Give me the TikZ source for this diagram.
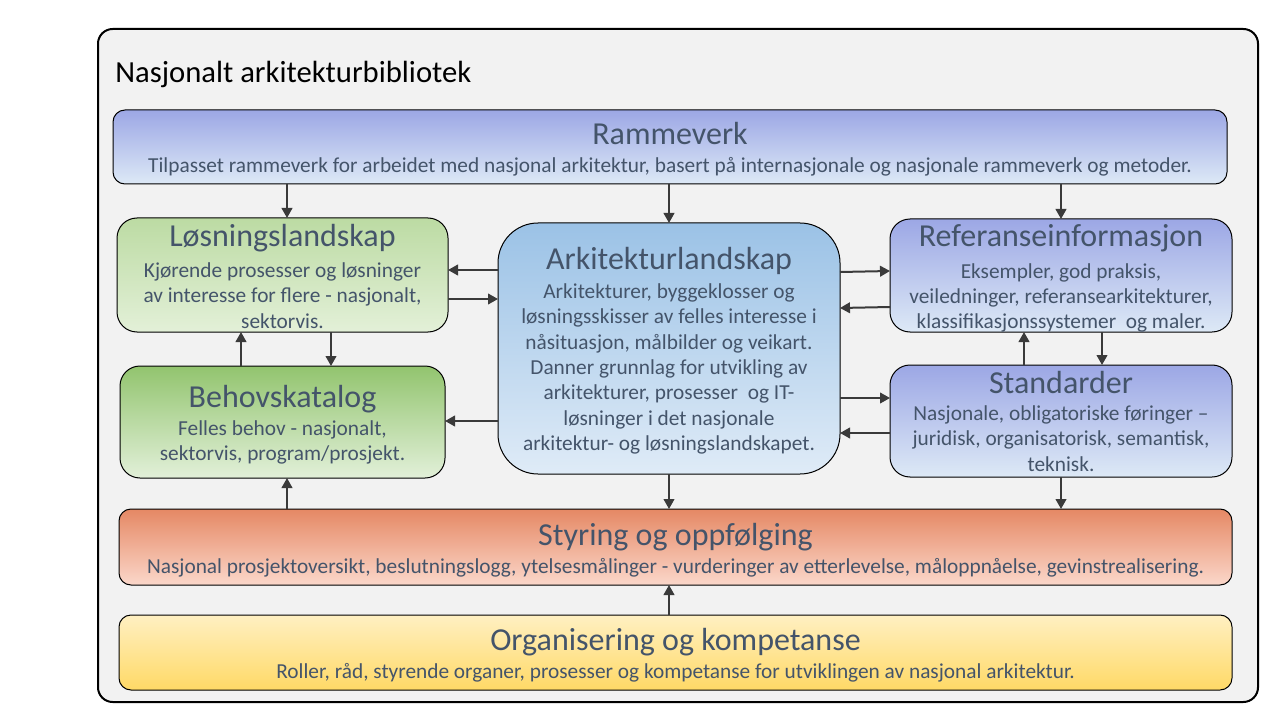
\documentclass[tikz,border=0pt]{standalone}
\usepackage{fontspec}
\setmainfont{Carlito}
\usetikzlibrary{arrows.meta,calc}
\definecolor{txt}{HTML}{44546A}
\definecolor{arrc}{HTML}{3A3A3A}
\definecolor{bluetop}{HTML}{9CA7E5}
\definecolor{bluebot}{HTML}{DDE9F6}
\definecolor{skytop}{HTML}{9BC2E6}
\definecolor{skybot}{HTML}{DFEBF7}
\definecolor{lgtop}{HTML}{BCDBA3}
\definecolor{lgbot}{HTML}{E3F0D8}
\definecolor{dgtop}{HTML}{92C46E}
\definecolor{dgbot}{HTML}{E2F0D9}
\definecolor{ortop}{HTML}{E58864}
\definecolor{orbot}{HTML}{FBD7CA}
\definecolor{yetop}{HTML}{FFF0C2}
\definecolor{yebot}{HTML}{FFD966}
\definecolor{framefill}{HTML}{F2F2F2}
\begin{document}
\begin{tikzpicture}[x=0.75pt,y=-0.75pt,
  wh/.style 2 args={minimum width=#1*0.75pt, minimum height=#2*0.75pt, inner sep=0pt, outer sep=0pt},
  box/.style={draw=black, line width=0.75pt, rounded corners=#1*0.75pt},
  box/.default=12,
  ttl/.style={anchor=base, text=txt, font=\fontsize{24}{28}\selectfont},
  body/.style={anchor=base, text=txt, align=center, font=\fontsize{16}{19}\selectfont},
  arr/.style={draw=arrc, line width=1.5pt, -{Triangle[length=7.5pt,width=8pt]}}
]
\useasboundingbox (0,0) rectangle (1280,720);
\fill[white] (0,0) rectangle (1280,720);

% frame
\node[wh={1160}{673}, draw=black, line width=1.5pt, fill=framefill, rounded corners=11pt] (frame) at (678,365.5) {};
\node[anchor=base west, font=\fontsize{23}{27}\selectfont, inner sep=0pt] (ftitle) at (115,83) {Nasjonalt arkitekturbibliotek};

% boxes
\node[wh={1114}{74}, box, top color=bluetop, bottom color=bluebot] (ramme) at (670,147) {};
\node[wh={331}{114}, box=20, top color=lgtop, bottom color=lgbot] (lsn) at (282.5,275) {};
\node[wh={342}{251}, box=40, top color=skytop, bottom color=skybot] (ark) at (669,348.5) {};
\node[wh={342}{113}, box=20, top color=bluetop, bottom color=bluebot] (ref) at (1061,275.5) {};
\node[wh={325}{112}, box=20, top color=dgtop, bottom color=dgbot] (behov) at (282.5,422) {};
\node[wh={342}{112}, box=20, top color=bluetop, bottom color=bluebot] (std) at (1061,421) {};
\node[wh={1113}{76}, box, top color=ortop, bottom color=orbot] (styr) at (675.5,547) {};
\node[wh={1113}{75}, box, top color=yetop, bottom color=yebot] (org) at (675.5,652.5) {};

% texts
\node[ttl] (rammet) at (670,145) {Rammeverk};
\node[body] (rammeb) at (670,173) {Tilpasset rammeverk for arbeidet med nasjonal arkitektur, basert på internasjonale og nasjonale rammeverk og metoder.};

\node[ttl] (lsnt) at (282.5,247) {Løsningslandskap};
\node[body, anchor=north] (lsnb) at (282.5,258) {Kjørende prosesser og løsninger\\ av interesse for flere - nasjonalt,\\ sektorvis.};

\node[ttl] (arkt) at (669,269) {Arkitekturlandskap};
\node[body, anchor=north] (arkb) at (669,279) {Arkitekturer, byggeklosser og\\ løsningsskisser av felles interesse i\\ nåsituasjon, målbilder og veikart.\\ Danner grunnlag for utvikling av\\ arkitekturer, prosesser\ \ og IT-\\ løsninger i det nasjonale\\ arkitektur- og løsningslandskapet.};

\node[ttl] (reft) at (1061,247) {Referanseinformasjon};
\node[body, anchor=north] (refb) at (1061,258.5) {Eksempler, god praksis,\\ veiledninger, referansearkitekturer,\\ klassifikasjonssystemer\ \ og maler.};

\node[ttl] (behovt) at (282.5,407) {Behovskatalog};
\node[body, anchor=north] (behovb) at (282.5,416) {Felles behov - nasjonalt,\\ sektorvis, program/prosjekt.};

\node[ttl] (stdt) at (1061,393) {Standarder};
\node[body, anchor=north] (stdb) at (1061,401) {Nasjonale, obligatoriske føringer –\\ juridisk, organisatorisk, semantisk,\\ teknisk.};

\node[ttl] (styrt) at (675.5,545) {Styring og oppfølging};
\node[body] (styrb) at (675.5,573) {Nasjonal prosjektoversikt, beslutningslogg, ytelsesmålinger - vurderinger av etterlevelse, måloppnåelse, gevinstrealisering.};

\node[ttl] (orgt) at (675.5,650) {Organisering og kompetanse};
\node[body] (orgb) at (675.5,678) {Roller, råd, styrende organer, prosesser og kompetanse for utviklingen av nasjonal arkitektur.};

% arrows
\draw[arr] (ramme.south -| 287,0) -- (lsn.north -| 287,0);
\draw[arr] (ramme.south -| 669,0) -- (ark.north -| 669,0);
\draw[arr] (ramme.south -| 1061,0) -- (ref.north -| 1061,0);

\draw[arr] (ark.west |- 0,270) -- (lsn.east |- 0,270);
\draw[arr] (lsn.east |- 0,299) -- (ark.west |- 0,299);
\draw[arr] (ark.west |- 0,421) -- (behov.east |- 0,421);

\draw[arr] (ark.east |- 0,272) -- (ref.west |- 0,271);
\draw[arr] (ref.west |- 0,307) -- (ark.east |- 0,308);
\draw[arr] (ark.east |- 0,398) -- (std.west |- 0,398);
\draw[arr] (std.west |- 0,433) -- (ark.east |- 0,433);

\draw[arr] (behov.north -| 241,0) -- (lsn.south -| 241,0);
\draw[arr] (lsn.south -| 331,0) -- (behov.north -| 331,0);
\draw[arr] (std.north -| 1024,0) -- (ref.south -| 1024,0);
\draw[arr] (ref.south -| 1102,0) -- (std.north -| 1102,0);

\draw[arr] (ark.south -| 669,0) -- (styr.north -| 669,0);
\draw[arr] (std.south -| 1061,0) -- (styr.north -| 1061,0);
\draw[arr] (styr.north -| 287,0) -- (behov.south -| 287,0);
\draw[arr] (org.north -| 669,0) -- (styr.south -| 669,0);
\end{tikzpicture}
\end{document}
